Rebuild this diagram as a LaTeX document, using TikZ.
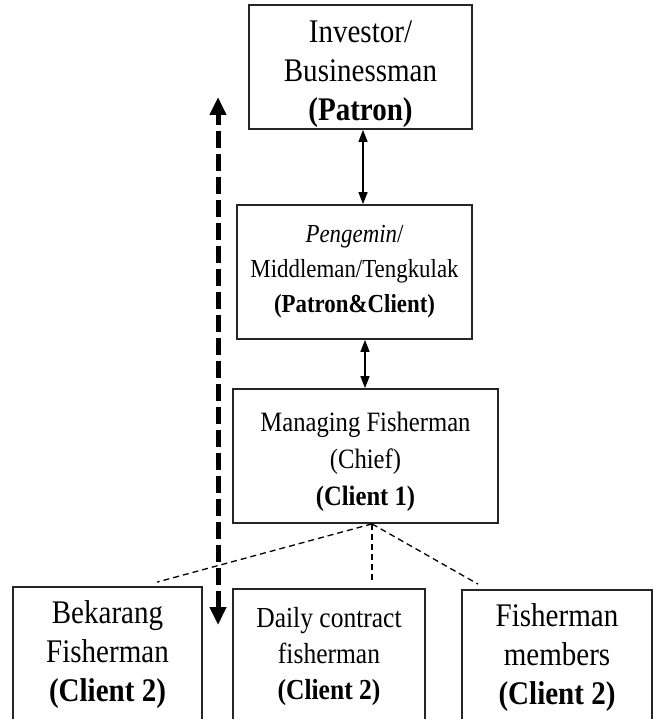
\documentclass[tikz,border=0pt]{standalone}
\usepackage{fontspec}
\setmainfont{Liberation Serif}[FakeStretch=0.88]
\usetikzlibrary{arrows.meta}
\begin{document}
\begin{tikzpicture}[x=1pt,y=-1pt,
  box/.style={draw=black!85, line width=1.8pt, align=center, inner sep=0pt},
  big/.style={font=\fontsize{33}{39}\selectfont},
  med/.style={font=\fontsize{26}{35}\selectfont},
  chieffont/.style={font=\fontsize{28}{37}\selectfont},
  dailyfont/.style={font=\fontsize{29}{36}\selectfont},
  link/.style={line width=1.4pt, {Triangle[length=12pt,width=9pt]}-{Triangle[length=12pt,width=9pt]}},
  tie/.style={line width=1.3pt, dash pattern=on 6pt off 4pt},
  flow/.style={line width=5pt, dash pattern=on 17pt off 6pt,
    {Triangle[length=18pt,width=16pt]}-{Triangle[length=18pt,width=16pt]}},
]
\useasboundingbox (0,0) rectangle (653,719);
\clip (0,0) rectangle (653,719);

% hierarchy of patrons and clients
\node[box,big,minimum width=223pt,minimum height=124pt] (patron) at (360.5,67)
  {\rule{0pt}{36pt}Investor/\\Businessman\\\textbf{(Patron)}};
\node[box,med,minimum width=235pt,minimum height=134pt] (middle) at (354.5,272)
  {\textit{Pengemin}/\\Middleman/Tengkulak\\\textbf{(Patron\&Client)}};
\node[box,chieffont,minimum width=265pt,minimum height=134pt] (chief) at (365.5,456)
  {\rule{0pt}{30pt}Managing Fisherman\\(Chief)\\\textbf{(Client 1)}};

% fishermen at the bottom level
\node[box,big,minimum width=189pt,minimum height=136pt] (bek) at (107.5,655)
  {Bekarang\\Fisherman\\\textbf{(Client 2)}};
\node[box,dailyfont,minimum width=192pt,minimum height=136pt] (daily) at (329,657)
  {Daily contract\\fisherman\\\textbf{(Client 2)}};
\node[box,big,minimum width=190pt,minimum height=136pt] (members) at (557,658)
  {Fisherman\\members\\\textbf{(Client 2)}};

% two-way links
\draw[link] ([xshift=2.5pt]patron.south) -- ([xshift=2.5pt]patron.south |- middle.north);
\draw[link] ([xshift=10.5pt]middle.south) -- ([xshift=10.5pt]middle.south |- chief.north);

% dashed ties from the chief
\coordinate (fork) at ([xshift=6.5pt]chief.south);
\coordinate (tbek) at ([xshift=49.5pt,yshift=4pt]bek.north);
\coordinate (tdaily) at ([xshift=43pt,yshift=5pt]daily.north);
\coordinate (tmem) at ([xshift=-79pt,yshift=5pt]members.north);
\draw[tie] (fork) -- (tbek);
\draw[tie] (fork) -- (tdaily);
\draw[tie] (fork) -- (tmem);

% overall flow between the top and the bottom
\coordinate (up) at (218,97);
\coordinate (down) at (218,625);
\draw[flow] (down) -- (up);
\end{tikzpicture}
\end{document}
